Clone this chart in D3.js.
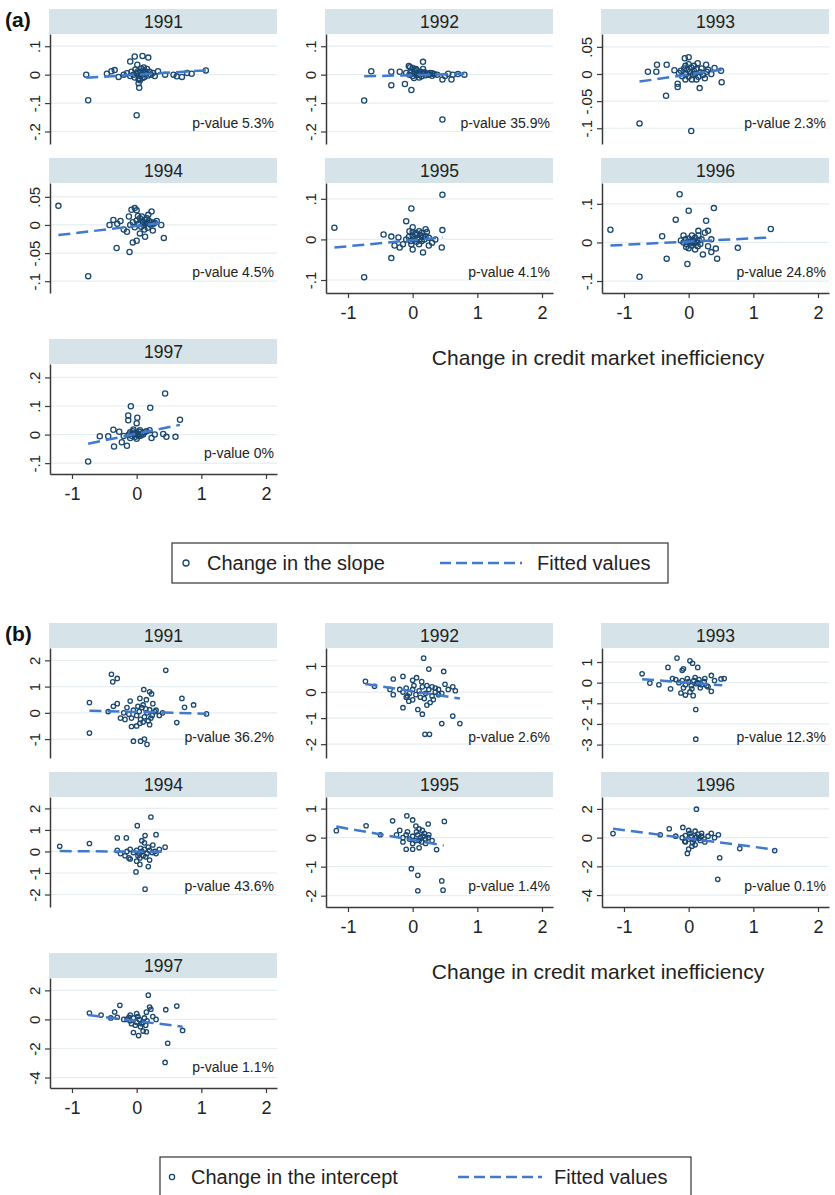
<!DOCTYPE html>
<html><head><meta charset="utf-8">
<script src="https://cdn.jsdelivr.net/npm/d3@7"></script>
<style>body{margin:0;background:#fff;} svg{display:block;font-family:"Liberation Sans",Arial,sans-serif;}</style>
</head><body>
<svg id="c" width="835" height="1195"></svg>
<script>
// ---------- data ----------
const years = [1991, 1992, 1993, 1994, 1995, 1996, 1997];
const xTicks = [-1, 0, 1, 2];
const xRange = [-1.34, 2.17];
const xTitle = "Change in credit market inefficiency";

const slopePValues = ["5.3%", "35.9%", "2.3%", "4.5%", "4.1%", "24.8%", "0%"];
const interceptPValues = ["36.2%", "2.6%", "12.3%", "43.6%", "1.4%", "0.1%", "1.1%"];

const slopeYTicks = [[-.2,-.1,0,.1],[-.2,-.1,0,.1],[-.1,-.05,0,.05],[-.1,-.05,0,.05],[-.1,0,.1],[-.1,0,.1],[-.1,0,.1,.2]];
const interceptYTicks = [[-1,0,1,2],[-2,-1,0,1],[-3,-2,-1,0,1],[-2,-1,0,1,2],[-2,-1,0,1],[-4,-2,0,2],[-4,-2,0,2]];
const slopeYRanges = [[-.244,.143],[-.244,.143],[-.129,.0737],[-.121,.0746],[-.132,.139],[-.131,.154],[-.138,.247]];
const interceptYRanges = [[-1.72,2.47],[-2.53,1.69],[-3.65,1.68],[-2.58,2.53],[-2.39,1.40],[-4.83,2.83],[-4.72,2.85]];

// fitted values: [x start, y start, x end, y end]
const slopeFits = [[-0.78,-0.011,1.07,0.015],[-0.75,-0.006,0.8,0.003],[-0.76,-0.014,0.51,0.008],[-1.21,-0.018,0.42,0.004],[-1.21,-0.02,0.46,0.005],[-1.21,-0.008,1.27,0.013],[-0.75,-0.032,0.67,0.034]];
const interceptFits = [[-0.73,0.08,1.08,-0.03],[-0.73,0.31,0.73,-0.25],[-0.72,0.17,0.52,-0.13],[-1.19,0.02,0.44,-0.02],[-1.18,0.38,0.48,-0.27],[-1.17,0.62,1.33,-0.83],[-0.75,0.3,0.71,-0.5]];

// change in the slope
const slope1991 = [[-0.78,0.0],[-0.75,-0.09],[0.0,-0.143],[0.04,-0.046],[-0.03,0.064],[-0.1,0.046],[0.09,0.066],[0.18,0.06],[0.01,0.035],[1.07,0.015],[0.85,0.003],[0.7,-0.008],[0.57,0.0],[0.44,0.0],[0.33,0.012],[-0.46,0.003],[-0.39,0.012],[-0.34,0.016],[-0.28,-0.008],[-0.2,0.0],[0.05,-0.02],[0.03,-0.03],[0.62,-0.006],[0.78,0.006],
  [-0.15,0.005],[-0.1,-0.005],[-0.08,0.01],[-0.05,0.0],[-0.03,-0.01],[0.0,0.005],[0.02,0.012],[0.04,-0.004],[0.06,0.008],[0.08,0.0],[0.1,0.015],[0.12,-0.008],[0.14,0.005],[0.16,0.02],[0.18,-0.003],[0.2,0.01],[0.22,0.0],[0.25,0.006],[0.28,-0.005],[0.07,0.022],[0.11,0.025],[-0.02,0.018],[0.03,-0.015],[0.09,-0.012],[0.13,0.012]];
const slope1992 = [[-0.75,-0.091],[-0.64,0.012],[-0.33,0.01],[-0.33,-0.037],[-0.12,-0.033],[-0.02,-0.054],[-0.2,0.01],[-0.06,0.03],[-0.04,0.026],[0.16,0.045],[0.46,-0.158],[0.46,-0.017],[0.6,-0.017],[0.62,0.0],[0.7,0.002],[0.8,0.0],[0.0,0.023],[0.06,0.016],[0.16,0.02],[0.3,0.005],[0.38,0.0],[0.5,-0.005],[0.55,0.003],[-0.1,0.006],
  [-0.05,0.0],[-0.02,0.01],[0.0,-0.005],[0.02,0.005],[0.04,0.012],[0.06,-0.002],[0.08,0.006],[0.1,0.0],[0.12,0.01],[0.14,-0.006],[0.16,0.004],[0.18,0.008],[0.2,-0.002],[0.22,0.004],[0.25,0.0],[0.27,0.006],[0.3,-0.004],[0.33,0.002],[0.05,0.02],[0.1,-0.01],[0.02,-0.012]];
const slope1993 = [[-0.76,-0.091],[0.04,-0.105],[-0.63,0.004],[-0.5,0.004],[-0.49,0.017],[-0.34,0.017],[-0.35,-0.04],[-0.17,-0.018],[-0.17,-0.024],[-0.06,0.029],[0.0,0.031],[0.14,0.02],[0.27,0.017],[0.51,-0.015],[0.5,0.006],[0.4,0.011],[0.17,-0.026],[0.05,-0.01],[-0.05,-0.01],[-0.22,0.007],[0.3,0.008],[0.35,0.0],[0.25,-0.008],
  [-0.15,0.002],[-0.12,0.006],[-0.1,-0.004],[-0.07,0.01],[-0.04,0.0],[-0.02,0.008],[0.0,-0.005],[0.02,0.004],[0.04,0.012],[0.06,-0.002],[0.08,0.006],[0.1,0.0],[0.12,0.009],[0.15,-0.005],[0.18,0.003],[0.2,0.01],[0.22,-0.002],[0.08,0.015],[-0.05,0.015],[0.12,-0.01],[0.0,0.018],[0.28,0.004]];
const slope1994 = [[-1.21,0.034],[-0.75,-0.091],[-0.31,-0.041],[-0.11,-0.048],[-0.06,-0.031],[0.0,-0.028],[0.13,-0.021],[0.42,-0.023],[0.23,0.024],[-0.03,0.03],[-0.08,0.027],[0.0,0.026],[-0.42,0.0],[-0.36,0.009],[-0.25,0.007],[-0.2,-0.008],[-0.15,-0.012],[0.31,0.007],[0.38,0.0],[-0.3,0.002],[-0.12,0.015],[0.18,0.018],[0.25,-0.01],[0.05,-0.015],
  [-0.1,0.0],[-0.06,0.005],[-0.03,-0.004],[0.0,0.008],[0.03,0.002],[0.05,0.012],[0.07,-0.003],[0.09,0.006],[0.11,0.0],[0.13,0.009],[0.15,0.003],[0.17,-0.005],[0.19,0.007],[0.21,0.001],[0.23,0.005],[0.26,0.002],[0.08,0.015],[0.12,-0.008],[0.02,0.016],[0.16,0.012],[0.28,0.004],[0.1,0.004]];
const slope1995 = [[-1.21,0.029],[-0.75,-0.093],[0.46,0.11],[-0.02,0.076],[-0.1,0.045],[0.46,0.023],[0.45,-0.02],[0.16,-0.032],[-0.33,-0.046],[-0.45,0.012],[-0.33,0.007],[-0.28,-0.015],[-0.2,-0.02],[-0.15,-0.012],[0.0,-0.025],[0.25,-0.015],[0.3,-0.008],[0.2,0.025],[0.22,0.018],[0.0,0.03],[-0.22,0.005],[0.35,0.0],[0.1,0.02],[-0.05,0.02],
  [-0.1,0.0],[-0.06,0.006],[-0.03,-0.004],[0.0,0.008],[0.02,0.0],[0.04,0.012],[0.06,-0.006],[0.08,0.004],[0.1,0.0],[0.12,0.01],[0.14,-0.004],[0.16,0.006],[0.18,0.0],[0.2,0.008],[0.05,0.016],[0.0,0.018],[-0.02,-0.012],[0.1,-0.012],[0.14,0.016],[0.25,0.004],[0.07,0.002]];
const slope1996 = [[-1.21,0.033],[-0.76,-0.089],[-0.14,0.125],[0.0,0.082],[0.39,0.089],[-0.2,0.059],[0.27,0.056],[-0.41,0.016],[-0.34,-0.042],[-0.02,-0.056],[0.44,-0.042],[0.42,-0.016],[0.76,-0.014],[1.27,0.035],[0.22,-0.031],[0.25,0.025],[0.3,0.03],[0.35,0.008],[0.3,-0.01],[-0.08,0.018],[0.15,0.03],[-0.12,0.005],[0.35,-0.025],
  [-0.08,0.0],[-0.05,0.008],[-0.03,-0.005],[0.0,0.01],[0.02,0.002],[0.04,-0.008],[0.06,0.006],[0.08,-0.002],[0.1,0.012],[0.12,0.0],[0.14,-0.01],[0.16,0.005],[0.18,-0.004],[0.2,0.008],[0.0,-0.015],[0.05,0.018],[0.1,-0.018],[-0.04,-0.012],[0.15,0.018],[0.08,0.004],[0.03,0.0]];
const slope1997 = [[-0.75,-0.094],[-0.57,-0.006],[-0.44,-0.006],[-0.36,0.017],[-0.35,-0.042],[-0.09,0.099],[-0.13,0.067],[-0.13,0.05],[0.01,0.059],[0.21,0.094],[0.44,0.144],[0.67,0.052],[0.41,0.002],[0.46,-0.008],[0.6,-0.008],[0.28,0.0],[0.23,-0.012],[-0.15,-0.039],[-0.23,-0.027],[-0.27,0.01],[-0.2,-0.005],[0.15,0.012],[0.2,0.015],[0.0,0.04],
  [-0.12,0.0],[-0.1,0.008],[-0.08,-0.004],[-0.06,0.012],[-0.04,0.002],[-0.02,-0.008],[0.0,0.006],[0.02,0.0],[0.04,0.01],[0.06,-0.004],[0.08,0.004],[0.1,0.0],[-0.05,0.018],[0.0,-0.015],[0.05,0.015],[-0.1,-0.012],[0.03,-0.005],[-0.03,0.005],[0.12,0.008]];

// change in the intercept
const intercept1991 = [[-0.73,0.39],[-0.73,-0.77],[-0.39,1.47],[-0.3,1.31],[-0.37,1.18],[0.45,1.62],[0.11,0.89],[0.2,0.8],[0.23,0.72],[0.7,0.55],[0.74,0.21],[0.88,0.3],[1.08,-0.04],[0.62,-0.37],[-0.44,0.05],[-0.08,-0.52],[0.0,-0.5],[0.05,-0.4],[-0.05,-1.08],[0.06,-1.08],[0.12,-1.0],[0.16,-1.2],[-0.36,0.25],[-0.3,0.35],[-0.25,-0.2],[-0.18,-0.25],[-0.1,0.45],[0.3,0.1],[0.35,-0.1],[0.2,-0.45],[0.1,-0.35],[0.25,0.35],[-0.15,0.2],[0.4,0.0],[0.15,0.5],[0.05,0.55],
  [-0.2,0.0],[-0.12,-0.05],[-0.05,0.1],[0.0,-0.1],[0.04,0.05],[0.08,0.2],[0.12,-0.15],[0.16,0.0],[0.2,0.12],[0.24,-0.1],[0.28,0.05],[0.06,-0.25],[0.1,0.3],[0.18,-0.3],[0.02,0.25],[-0.08,-0.2],[0.14,0.15],[0.22,-0.2]];
const intercept1992 = [[-0.73,0.41],[-0.3,0.5],[-0.15,0.6],[-0.3,-0.1],[-0.15,-0.6],[0.17,1.3],[0.25,0.88],[0.48,0.79],[0.0,0.45],[0.06,0.55],[0.14,0.4],[0.08,-0.67],[0.22,-0.5],[0.27,-0.4],[0.32,-0.29],[0.62,-0.92],[0.73,-1.21],[0.45,-1.21],[0.19,-1.62],[0.26,-1.62],[-0.1,-0.2],[-0.06,-0.35],[0.0,-0.3],[0.5,0.3],[0.55,0.1],[0.62,0.2],[0.66,0.05],[-0.59,0.22],[-0.35,0.1],[0.4,-0.1],[0.35,0.15],[0.15,-0.85],
  [-0.2,0.1],[-0.15,0.0],[-0.1,0.15],[-0.05,-0.05],[0.0,0.1],[0.05,-0.1],[0.1,0.05],[0.15,0.2],[0.2,-0.05],[0.25,0.1],[0.3,-0.15],[0.35,0.0],[0.4,0.1],[0.45,-0.05],[0.02,0.25],[0.12,-0.2],[0.22,0.25],[-0.08,-0.15],[0.3,0.2],[0.18,-0.25]];
const intercept1993 = [[-0.72,0.43],[-0.6,-0.02],[-0.46,-0.1],[-0.32,0.74],[-0.18,1.19],[-0.08,0.67],[-0.1,0.6],[0.02,1.06],[0.06,0.94],[0.14,0.74],[0.11,-1.3],[0.11,-2.74],[0.07,-0.63],[-0.12,-0.5],[-0.05,-0.6],[0.02,-0.45],[0.35,-0.42],[0.5,0.18],[0.55,0.2],[0.35,0.35],[0.25,0.2],[0.4,0.1],[-0.25,0.2],[-0.2,0.15],[-0.28,-0.3],[0.3,-0.2],
  [-0.15,0.0],[-0.1,0.1],[-0.05,-0.1],[0.0,0.05],[0.04,-0.15],[0.08,0.1],[0.12,-0.05],[0.16,0.15],[0.2,-0.1],[0.24,0.05],[0.28,-0.15],[-0.02,0.2],[0.1,0.25],[0.18,-0.25],[0.05,-0.3],[-0.08,-0.25],[0.14,0.0]];
const intercept1994 = [[-1.19,0.24],[-0.73,0.37],[-0.3,0.63],[-0.16,0.63],[0.01,1.2],[0.22,1.6],[0.3,0.78],[0.13,0.74],[0.08,0.5],[0.12,0.4],[0.18,-0.7],[-0.01,-0.95],[0.13,-1.75],[-0.1,-0.35],[0.0,-0.45],[0.05,-0.3],[0.44,0.2],[-0.25,-0.1],[-0.18,-0.2],[-0.12,-0.3],[0.05,-0.6],[0.2,-0.4],[0.25,0.3],[0.35,0.1],[-0.3,0.05],
  [-0.15,0.0],[-0.1,0.1],[-0.05,-0.05],[0.0,0.05],[0.04,-0.1],[0.08,0.0],[0.12,0.1],[0.16,-0.1],[0.2,0.05],[0.24,-0.05],[0.28,0.0],[0.06,0.15],[0.1,-0.2],[0.18,0.2],[0.02,-0.2],[0.14,-0.25],[0.3,-0.1]];
const intercept1995 = [[-1.18,0.24],[-0.72,0.41],[-0.31,0.58],[-0.09,0.75],[0.0,0.61],[0.24,0.47],[0.49,0.56],[-0.02,-1.07],[0.08,-1.3],[0.08,-1.83],[0.45,-1.49],[0.47,-1.81],[0.37,-0.41],[-0.5,0.1],[-0.2,0.25],[-0.15,-0.15],[-0.1,-0.4],[0.0,-0.4],[0.1,-0.35],[0.2,-0.2],[0.1,0.3],[0.05,0.4],[0.15,0.25],[0.25,0.1],[0.3,-0.1],[-0.25,0.1],
  [-0.15,0.0],[-0.1,0.1],[-0.05,-0.05],[0.0,0.05],[0.04,-0.1],[0.08,0.1],[0.12,0.0],[0.16,0.05],[0.2,-0.05],[0.24,0.0],[0.06,0.2],[0.0,-0.2],[0.14,-0.15],[-0.08,0.2],[0.18,0.15],[0.1,-0.1]];
const intercept1996 = [[-1.17,0.28],[-0.3,0.62],[-0.09,0.71],[0.12,1.98],[0.0,0.5],[0.1,0.45],[0.46,0.2],[0.48,-1.4],[0.45,-2.9],[0.79,-0.76],[1.33,-0.9],[-0.05,-0.3],[0.0,-0.8],[-0.02,-1.1],[0.05,-0.6],[0.1,-0.5],[-0.44,0.2],[0.3,0.1],[0.35,0.3],[0.2,0.3],[-0.2,0.1],[0.4,0.0],[0.25,-0.3],
  [-0.1,0.0],[-0.05,0.15],[0.0,-0.1],[0.04,0.1],[0.08,-0.15],[0.12,0.05],[0.16,-0.05],[0.2,0.1],[0.24,-0.1],[0.02,0.3],[0.06,-0.35],[0.14,0.25],[-0.06,-0.25],[0.1,0.0],[0.18,-0.2]];
const intercept1997 = [[-0.73,0.44],[-0.26,0.97],[-0.34,0.51],[0.18,1.67],[0.22,0.7],[0.2,0.85],[0.45,0.67],[0.62,0.92],[0.71,-0.76],[0.48,-1.64],[0.44,-2.96],[0.03,-1.11],[-0.05,-0.9],[0.1,-0.8],[0.15,-0.85],[-0.4,0.1],[-0.3,0.15],[-0.2,0.0],[0.25,0.2],[0.3,0.0],[0.15,0.5],[0.0,0.4],[-0.1,0.3],[-0.55,0.3],
  [-0.15,0.0],[-0.1,-0.1],[-0.05,0.1],[0.0,-0.2],[0.04,0.0],[0.08,-0.3],[0.12,0.1],[0.16,-0.1],[-0.02,-0.4],[0.06,-0.5],[0.1,-0.2],[-0.08,-0.3],[0.02,0.2],[0.14,-0.4],[-0.12,0.15]];

const slopePoints = [slope1991, slope1992, slope1993, slope1994, slope1995, slope1996, slope1997];
const interceptPoints = [intercept1991, intercept1992, intercept1993, intercept1994, intercept1995, intercept1996, intercept1997];

// ---------- layout / style ----------
const COLS = [50, 326, 602];
const W = 227, HH = 25, PH = 110;
const ROW_TOPS = [9, 158, 339];
const OFFSET_B = 614;
const NAVY = "#1a476f", FIT = "#4179cc", STRIP = "#d6e4ea", GRID = "#e6eef1", AXIS = "#3a3a3a", TXT = "#222";
const FONT = '"Liberation Sans", Arial, sans-serif';

const svg = d3.select("#c");
svg.append("rect").attr("width", 835).attr("height", 1195).attr("fill", "#fff");

function fmt(v) {
  if (v === 0) return "0";
  return String(v).replace("0.", ".");
}

function drawPanel(i, yOff, pts, fit, ticks, yr, pval, r) {
  const col = i % 3, row = Math.floor(i / 3);
  const gx = COLS[col], gy = ROW_TOPS[row] + yOff + HH;
  const g = svg.append("g").attr("transform", `translate(${gx},${gy})`);
  const x = d3.scaleLinear().domain(xRange).range([0, W]);
  const y = d3.scaleLinear().domain(yr).range([PH, 0]);

  // strip header
  g.append("rect").attr("x", -1).attr("y", -HH).attr("width", W + 1).attr("height", HH).attr("fill", STRIP);
  g.append("text").attr("x", W / 2).attr("y", -6.5).attr("text-anchor", "middle")
    .attr("font-size", 17.5).attr("fill", TXT).text(years[i]);

  // grid
  g.selectAll("line.grid").data(ticks).join("line").attr("class", "grid")
    .attr("x1", 1).attr("x2", W).attr("y1", d => y(d)).attr("y2", d => y(d))
    .attr("stroke", GRID).attr("stroke-width", 1.2);

  // points
  g.selectAll("circle.pt").data(pts).join("circle").attr("class", "pt")
    .attr("cx", d => x(d[0])).attr("cy", d => y(d[1])).attr("r", r)
    .attr("fill", "none").attr("stroke", NAVY).attr("stroke-width", 1.3);

  // fitted line
  const line = d3.line().x(d => x(d[0])).y(d => y(d[1]));
  g.append("path").datum([[fit[0], fit[1]], [fit[2], fit[3]]]).attr("d", line)
    .attr("fill", "none").attr("stroke", FIT).attr("stroke-width", 2.5).attr("stroke-dasharray", "12,6");

  // y axis
  const ya = g.append("g").call(d3.axisLeft(y).tickValues(ticks).tickSize(5).tickSizeOuter(0).tickFormat(fmt));
  ya.select(".domain").attr("stroke", AXIS).attr("stroke-width", 1.5);
  ya.selectAll(".tick line").attr("stroke", AXIS).attr("stroke-width", 1.2);
  ya.selectAll(".tick text").attr("x", null).attr("dy", null)
    .attr("transform", "translate(-10,0) rotate(-90)").attr("text-anchor", "middle")
    .attr("font-size", 15).attr("font-family", FONT).attr("fill", TXT);

  // x axis for bottom panels
  if (i >= 4) {
    const xa = g.append("g").attr("transform", `translate(0,${PH})`)
      .call(d3.axisBottom(x).tickValues(xTicks).tickSize(5).tickSizeOuter(0).tickFormat(d => String(d)));
    xa.select(".domain").attr("stroke", AXIS).attr("stroke-width", 1.5);
    xa.selectAll(".tick line").attr("stroke", AXIS).attr("stroke-width", 1.2);
    xa.selectAll(".tick text").attr("y", 26).attr("dy", null)
      .attr("font-size", 18).attr("font-family", FONT).attr("fill", TXT);
  }

  // p-value
  g.append("text").attr("x", W - 3).attr("y", PH - 16).attr("text-anchor", "end")
    .attr("font-size", 14).attr("fill", TXT).text("p-value " + pval);
}

function drawBlock(label, yOff, points, fits, ticksArr, ranges, pvals, r, legendLabel, legendBox) {
  svg.append("text").attr("x", 5).attr("y", 27 + yOff).attr("font-size", 21).attr("font-weight", "bold")
    .attr("fill", "#111").text(label);
  for (let i = 0; i < 7; i++) drawPanel(i, yOff, points[i], fits[i], ticksArr[i], ranges[i], pvals[i], r);
  svg.append("text").attr("x", 598).attr("y", 365 + yOff).attr("text-anchor", "middle")
    .attr("font-size", 21).attr("fill", TXT).text(xTitle);
  // legend
  const [bx0, bx1, cxm, tx, lx0, lx1, fx] = legendBox;
  const ly = 543 + yOff;
  svg.append("rect").attr("x", bx0).attr("y", ly).attr("width", bx1 - bx0).attr("height", 40)
    .attr("fill", "#fff").attr("stroke", "#333").attr("stroke-width", 1.2);
  svg.append("circle").attr("cx", cxm).attr("cy", ly + 20).attr("r", r + 0.4)
    .attr("fill", "none").attr("stroke", NAVY).attr("stroke-width", 1.3);
  svg.append("text").attr("x", tx).attr("y", ly + 27).attr("font-size", 20).attr("fill", TXT).text(legendLabel);
  svg.append("line").attr("x1", lx0).attr("x2", lx1).attr("y1", ly + 20).attr("y2", ly + 20)
    .attr("stroke", FIT).attr("stroke-width", 2.5).attr("stroke-dasharray", "11,5");
  svg.append("text").attr("x", fx).attr("y", ly + 27).attr("font-size", 20).attr("fill", TXT).text("Fitted values");
}

drawBlock("(a)", 0, slopePoints, slopeFits, slopeYTicks, slopeYRanges, slopePValues, 2.6,
  "Change in the slope", [172, 668, 186, 207, 440, 522, 537]);
drawBlock("(b)", OFFSET_B, interceptPoints, interceptFits, interceptYTicks, interceptYRanges, interceptPValues, 2.2,
  "Change in the intercept", [160, 691, 172, 191, 458, 542, 554]);
</script>
</body></html>
